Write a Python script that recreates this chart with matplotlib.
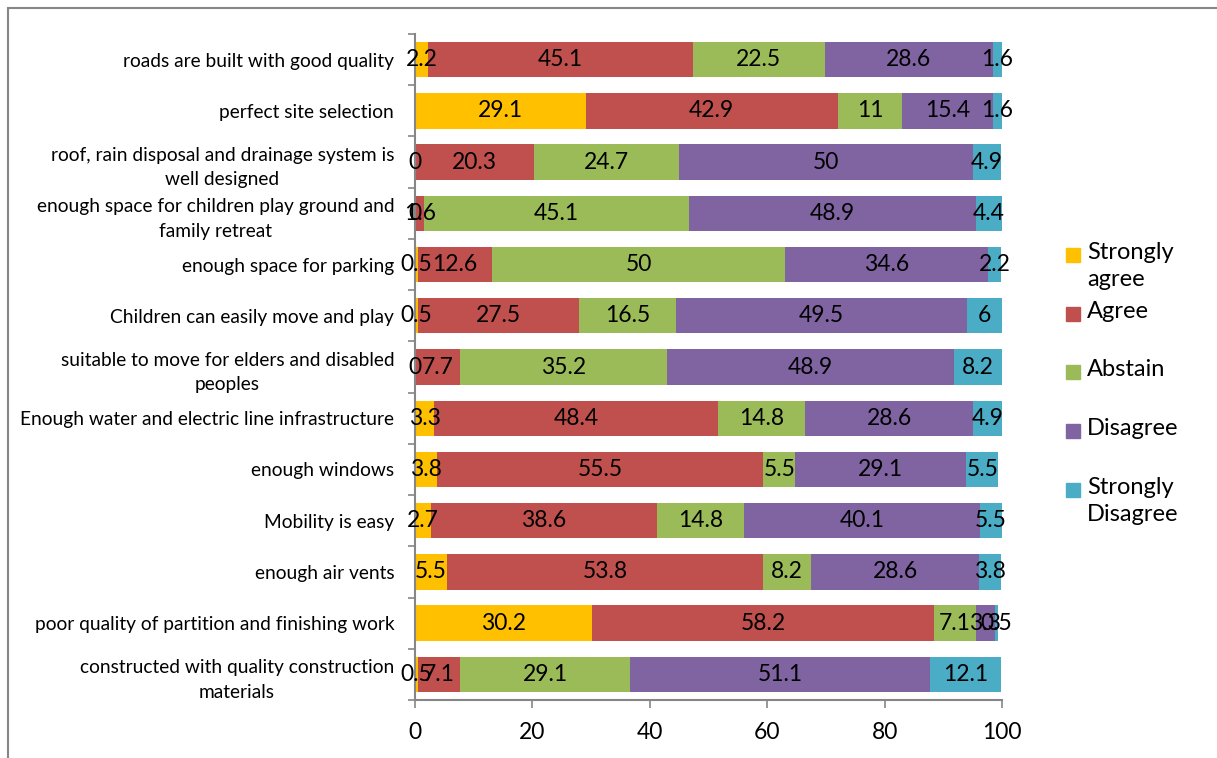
import matplotlib.pyplot as plt
from matplotlib.patches import Rectangle
import numpy as np

plt.rcParams['font.family'] = ['Lato', 'DejaVu Sans']

# survey statements, top to bottom
statements = [
    "roads are built with good quality",
    "perfect site selection",
    "roof, rain disposal and drainage system is\nwell designed",
    "enough space for children play ground and\nfamily retreat",
    "enough space for parking",
    "Children can easily move and play",
    "suitable to move for elders and disabled\npeoples",
    "Enough water and electric line infrastructure",
    "enough windows",
    "Mobility is easy",
    "enough air vents",
    "poor quality of partition and finishing work",
    "constructed with quality construction\nmaterials",
]

strongly_agree = [2.2, 29.1, 0, 0, 0.5, 0.5, 0, 3.3, 3.8, 2.7, 5.5, 30.2, 0.5]
agree = [45.1, 42.9, 20.3, 1.6, 12.6, 27.5, 7.7, 48.4, 55.5, 38.6, 53.8, 58.2, 7.1]
abstain = [22.5, 11, 24.7, 45.1, 50, 16.5, 35.2, 14.8, 5.5, 14.8, 8.2, 7.1, 29.1]
disagree = [28.6, 15.4, 50, 48.9, 34.6, 49.5, 48.9, 28.6, 29.1, 40.1, 28.6, 3.3, 51.1]
strongly_disagree = [1.6, 1.6, 4.9, 4.4, 2.2, 6, 8.2, 4.9, 5.5, 5.5, 3.8, 0.5, 12.1]

series = [
    ("Strongly\nagree", strongly_agree, "#FFC000"),
    ("Agree", agree, "#C0504D"),
    ("Abstain", abstain, "#9BBB59"),
    ("Disagree", disagree, "#8064A2"),
    ("Strongly\nDisagree", strongly_disagree, "#4BACC6"),
]

fig = plt.figure(figsize=(12.17, 7.58), dpi=100)
ax = fig.add_axes([415/1217, 1 - 700/758, 587/1217, 666/758])

y = np.arange(len(statements))
left = np.zeros(len(statements))
for name, vals, col in series:
    bars = ax.barh(y, vals, left=left, height=0.69, color=col, label=name)
    ax.bar_label(bars, labels=['%g' % v for v in vals], label_type='center', fontsize=16.5)
    left += np.array(vals)

ax.set_xlim(0, 100)
ax.set_ylim(len(statements) - 0.5, -0.5)
ax.set_xticks(np.arange(0, 101, 20))
ax.set_yticks(y)
ax.set_yticklabels(statements, fontsize=13.8, multialignment='center', linespacing=1.55)
ax.set_yticks(np.arange(-0.5, len(statements), 1), minor=True)

gray = '#868686'
for s in ['top', 'right']:
    ax.spines[s].set_visible(False)
for s in ['left', 'bottom']:
    ax.spines[s].set_color(gray)
    ax.spines[s].set_linewidth(1.5)
ax.tick_params(axis='x', colors=gray, labelcolor='black', labelsize=16.5, length=6, width=1.2, pad=10)
ax.tick_params(axis='y', which='major', length=0, pad=15, labelcolor='black')
ax.tick_params(axis='y', which='minor', length=5, width=1.2, color=gray)

# legend drawn by hand so squares line up with the first text line
leg_y = [255, 314, 372, 431, 490]
for (name, vals, col), yy in zip(series, leg_y):
    fig.patches.append(Rectangle((1066/1217, 1 - (yy + 7)/758), 14/1217, 14/758,
                                 transform=fig.transFigure, color=col))
    fig.text(1087/1217, 1 - (yy - 13)/758, name, fontsize=17, va='top', ha='left',
             linespacing=1.35)

# chart frame
fig.patches.append(Rectangle((8/1217, -0.05), 1.2, 1 - 8/758 + 0.05, transform=fig.transFigure,
                             fill=False, edgecolor=gray, linewidth=1.5))

fig.savefig('out.png', dpi=100)
